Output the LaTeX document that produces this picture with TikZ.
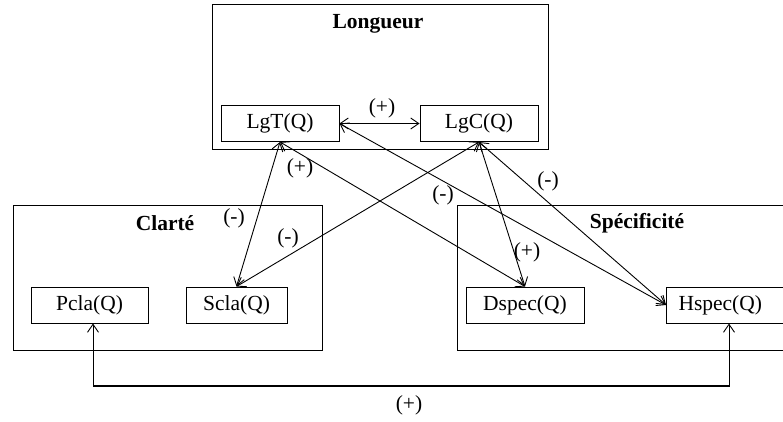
\documentclass[tikz,border=0pt]{standalone}
\usepackage{fontspec}
\setmainfont{Liberation Serif}
\usetikzlibrary{arrows.meta}
\begin{document}
\begin{tikzpicture}[x=1pt,y=-1pt,
  every node/.style={font=\fontsize{21.5}{24}\selectfont},
  grp/.style={draw,line width=1pt,inner sep=0pt},
  ttl/.style={inner sep=0pt,font=\fontsize{21.5}{24}\selectfont\bfseries},
  var/.style={draw,line width=1pt,inner sep=0pt,minimum height=36pt},
  lbl/.style={inner sep=0pt},
  rel/.style={line width=0.9pt,{Straight Barb[length=8pt,width=11pt]}-{Straight Barb[length=8pt,width=11pt]}}
]
\useasboundingbox (0,0) rectangle (783,422);
\clip (0,0) rectangle (783,422);

% group boxes
\node[grp,minimum width=336pt,minimum height=145pt] (Lg) at (380,77.5) {};
\node[grp,minimum width=309pt,minimum height=145pt] (Cl) at (167.5,277.5) {};
\node[grp,minimum width=343pt,minimum height=145pt] (Sp) at (628.5,277.5) {};
\node[ttl] (tLg) at (378,24) {Longueur};
\node[ttl] (tCl) at (165,223) {Clarté};
\node[ttl] (tSp) at (637,223) {Spécificité};

% variables
\node[var,minimum width=118pt] (LgT) at (280,123.5) {LgT(Q)};
\node[var,minimum width=118pt] (LgC) at (479,123.5) {LgC(Q)};
\node[var,minimum width=117pt] (Pcla) at (89.5,305) {Pcla(Q)};
\node[var,minimum width=101pt] (Scla) at (236.5,305) {Scla(Q)};
\node[var,minimum width=118pt] (Dspec) at (525,305) {Dspec(Q)};
\node[var,text width=110pt,align=left,inner xsep=12pt,anchor=west] (Hspec) at (666,305) {Hspec(Q)};

% relations
\draw[rel] (LgT.east) -- (LgC.west);
\draw[rel] (LgT.south) -- (Scla.north);
\draw[rel] (LgT.south) -- (Dspec.north);
\draw[rel] (LgT.east) -- (Hspec.west);
\draw[rel] (LgC.south) -- (Scla.north);
\draw[rel] (LgC.south) -- (Dspec.north);
\draw[rel] (LgC.south) -- (Hspec.west);

\coordinate (b1) at (93,386);
\coordinate (b2) at (729,386);
\draw[rel] (Pcla.south -| b1) -- (b1) -- (b2) -- (Hspec.south -| b2);
\draw[line width=2.2pt] (b1) -- (b2);

% labels
\node[lbl] (l1) at (382,108) {(+)};
\node[lbl] (l2) at (300,168) {(+)};
\node[lbl] (l3) at (234,218) {(-)};
\node[lbl] (l4) at (288,238) {(-)};
\node[lbl] (l5) at (443,195) {(-)};
\node[lbl] (l6) at (548,181) {(-)};
\node[lbl] (l7) at (527,252) {(+)};
\node[lbl] (l8) at (409,405) {(+)};
\end{tikzpicture}
\end{document}
